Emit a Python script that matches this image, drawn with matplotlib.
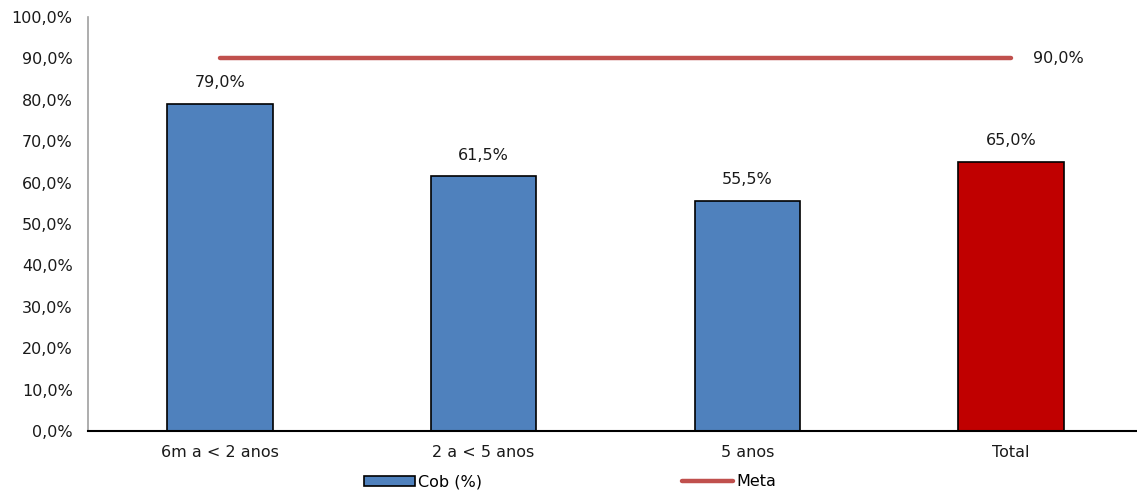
import numpy as np
import matplotlib.pyplot as plt

categories = ["6m a < 2 anos", "2 a < 5 anos", "5 anos", "Total"]
cob = [79.0, 61.5, 55.5, 65.0]
meta = 90.0
bar_colors = ["#4F81BD", "#4F81BD", "#4F81BD", "#C00000"]
y_ticks = np.arange(0, 101, 10)


def fmt_pct(v):
    return f"{v:.1f}%".replace(".", ",")


plt.rcParams["font.family"] = ["DejaVu Sans"]
plt.rcParams["font.size"] = 11.5

fig = plt.figure(figsize=(11.37, 4.91), dpi=100)
ax = fig.add_axes([88 / 1137, 60 / 491, (1143 - 88) / 1137, 414 / 491])

x = np.arange(len(categories))
bars = ax.bar(x, cob, width=0.4, color=bar_colors, edgecolor="black",
              linewidth=1.2, zorder=2)
meta_line, = ax.plot([x[0], x[-1]], [meta, meta], color="#C0504D",
                     linewidth=3.2, solid_capstyle="round", zorder=3)

for xi, v in zip(x, cob):
    ax.annotate(fmt_pct(v), (xi, v), xytext=(0, 10), textcoords="offset points",
                ha="center", va="bottom", color="#1a1a1a")
ax.annotate(fmt_pct(meta), (x[-1], meta), xytext=(16, 0),
            textcoords="offset points", ha="left", va="center", color="#1a1a1a")

ax.set_xlim(-0.5, 3.5)
ax.set_ylim(0, 100)
ax.set_yticks(y_ticks)
ax.set_yticklabels([fmt_pct(v) for v in y_ticks])
ax.set_xticks(x)
ax.set_xticklabels(categories)
ax.tick_params(axis="both", length=0, colors="#1a1a1a")
ax.tick_params(axis="y", pad=11)
ax.tick_params(axis="x", pad=10)

for s in ["top", "right"]:
    ax.spines[s].set_visible(False)
ax.spines["left"].set_color("#A0A0A0")
ax.spines["left"].set_linewidth(1.2)
ax.spines["bottom"].set_color("black")
ax.spines["bottom"].set_linewidth(1.5)

fig.legend([bars[0], meta_line], ["Cob (%)", "Meta"], loc="center",
           bbox_to_anchor=(570 / 1137, 9 / 491), ncol=2, frameon=False,
           handlelength=3.2, handleheight=0.6, columnspacing=12.5,
           handletextpad=0.2)

fig.savefig("out.png", dpi=100)
